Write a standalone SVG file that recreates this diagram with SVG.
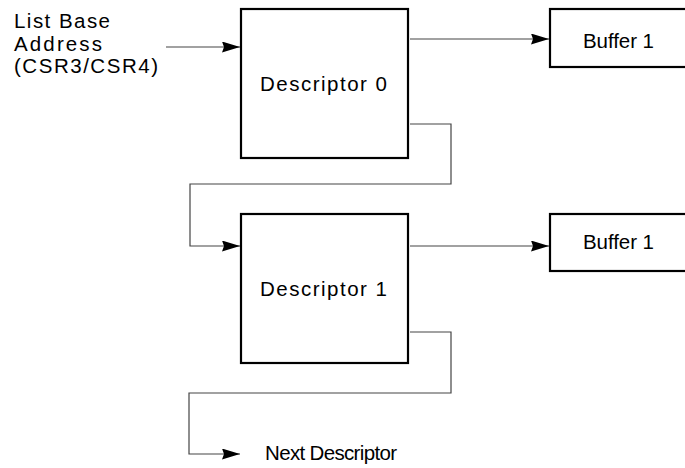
<svg xmlns="http://www.w3.org/2000/svg" width="685" height="468" viewBox="0 0 685 468">
<defs>
<style>
.box{fill:#fff;stroke:#000;stroke-width:2.2}
.con{fill:none;stroke:#444;stroke-width:1.2}
text{font-family:"Liberation Sans",Arial,sans-serif;font-size:20.5px;fill:#000}
</style>
<marker id="ah" markerUnits="userSpaceOnUse" markerWidth="18" markerHeight="11" refX="18" refY="5.5" orient="auto">
<path d="M0,0 L18,5.5 L0,11 L2,5.5 z" fill="#000"/>
</marker>
</defs>
<rect width="685" height="468" fill="#fff"/>
<g id="connectors">
<path class="con" d="M166,47 H240" marker-end="url(#ah)"/>
<path class="con" d="M410,39 H549" marker-end="url(#ah)"/>
<path class="con" d="M410,124 H451 V184 H190 V246 H240" marker-end="url(#ah)"/>
<path class="con" d="M410,246 H549" marker-end="url(#ah)"/>
<path class="con" d="M410,332 H451 V393 H189 V454 H240" marker-end="url(#ah)"/>
</g>
<g id="label-list-base">
<text x="14" y="28" textLength="96" lengthAdjust="spacing">List Base</text>
<text x="14" y="50.5" textLength="88" lengthAdjust="spacing">Address</text>
<text x="14" y="73" textLength="144" lengthAdjust="spacing">(CSR3/CSR4)</text>
</g>
<g id="descriptor0">
<rect class="box" x="241" y="9" width="167" height="149"/>
<text x="260" y="91" textLength="127" lengthAdjust="spacing">Descriptor 0</text>
</g>
<g id="buffer1a">
<rect class="box" x="550" y="9" width="150" height="58"/>
<text x="583" y="47.5" textLength="71" lengthAdjust="spacing">Buffer 1</text>
</g>
<g id="descriptor1">
<rect class="box" x="241" y="214" width="167" height="149"/>
<text x="260" y="296" textLength="127" lengthAdjust="spacing">Descriptor 1</text>
</g>
<g id="buffer1b">
<rect class="box" x="550" y="214" width="150" height="57"/>
<text x="583" y="249" textLength="71" lengthAdjust="spacing">Buffer 1</text>
</g>
<g id="next-descriptor">
<text x="265" y="460" textLength="132" lengthAdjust="spacing">Next Descriptor</text>
</g>
</svg>
